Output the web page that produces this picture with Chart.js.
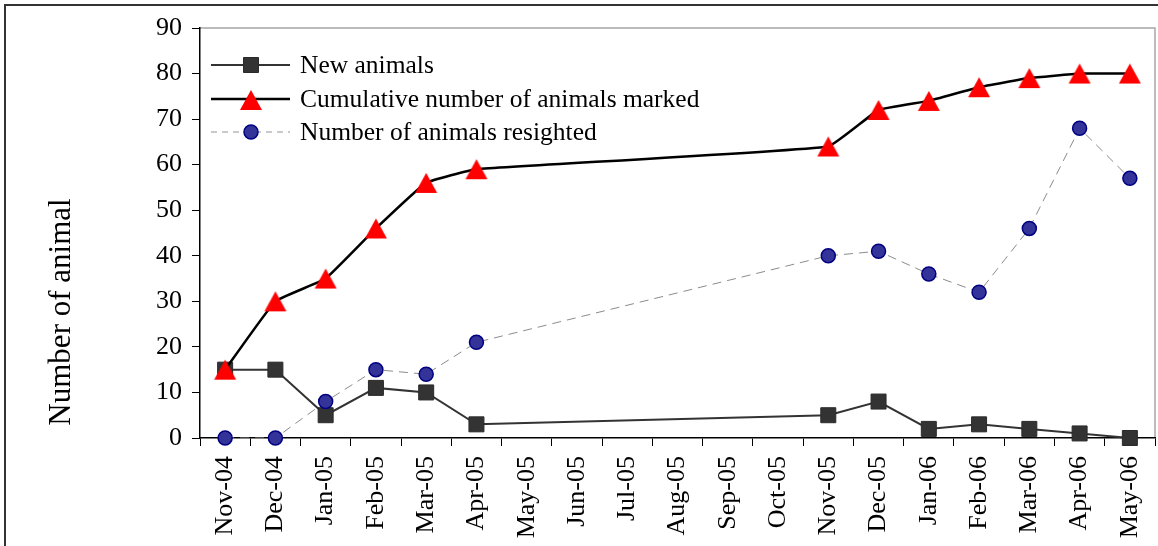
<!DOCTYPE html>
<html>
<head>
<meta charset="utf-8">
<script src="https://cdn.jsdelivr.net/npm/chart.js@4"></script>
<style>
  html, body { margin: 0; padding: 0; background: #fff; }
  #wrap { position: relative; width: 1158px; height: 546px; }
</style>
</head>
<body>
<div id="wrap"><canvas id="c" width="1158" height="546"></canvas></div>
<script>
// Monthly survey periods
const months = ['Nov-04','Dec-04','Jan-05','Feb-05','Mar-05','Apr-05','May-05','Jun-05','Jul-05',
                'Aug-05','Sep-05','Oct-05','Nov-05','Dec-05','Jan-06','Feb-06','Mar-06','Apr-06','May-06'];

// Series (null = no survey that month)
const newAnimals = [15, 15, 5, 11, 10, 3, null, null, null, null, null, null, 5, 8, 2, 3, 2, 1, 0];
const cumulativeMarked = [15, 30, 35, 46, 56, 59, null, null, null, null, null, null, 64, 72, 74, 77, 79, 80, 80];
const resighted = [0, 0, 8, 15, 14, 21, null, null, null, null, null, null, 40, 41, 36, 32, 46, 68, 57];

// Axis ticks
const yTicks = [0, 10, 20, 30, 40, 50, 60, 70, 80, 90];

const seriesNames = ['New animals', 'Cumulative number of animals marked', 'Number of animals resighted'];
const yTitle = 'Number of animal';

const SERIF = '"Liberation Serif", "DejaVu Serif", serif';

// Red triangle marker, centred on its bounding box
const triangleMarker = (() => {
  const cv = document.createElement('canvas');
  cv.width = 24; cv.height = 22;
  const c = cv.getContext('2d');
  c.beginPath();
  c.moveTo(12, 1);
  c.lineTo(23, 21);
  c.lineTo(1, 21);
  c.closePath();
  c.fillStyle = '#ff0000';
  c.fill();
  return cv;
})();

function drawMarker(ctx, style, x, y) {
  ctx.save();
  ctx.beginPath();
  if (style === 'rect') {
    const s = 7.5;
    ctx.rect(x - s, y - s, 2 * s, 2 * s);
    ctx.fillStyle = '#333333';
    ctx.strokeStyle = '#2a2a2a';
    ctx.lineWidth = 1;
    ctx.fill(); ctx.stroke();
  } else if (style === 'triangle') {
    ctx.drawImage(triangleMarker, x - 12, y - 11);
  } else {
    ctx.arc(x, y, 7, 0, Math.PI * 2);
    ctx.fillStyle = '#333399';
    ctx.strokeStyle = '#000080';
    ctx.lineWidth = 1.5;
    ctx.fill(); ctx.stroke();
  }
  ctx.restore();
}

const framePlugin = {
  id: 'frame',
  beforeDraw(chart) {
    const ctx = chart.ctx;
    ctx.save();
    ctx.fillStyle = '#ffffff';
    ctx.fillRect(0, 0, chart.width, chart.height);
    // outer chart frame
    ctx.strokeStyle = '#333333';
    ctx.lineWidth = 2;
    ctx.strokeRect(5, 5, chart.width + 20, chart.height + 20);
    // plot area top/right edge
    const a = chart.chartArea;
    ctx.strokeStyle = '#a6a6a6';
    ctx.lineWidth = 1.5;
    ctx.beginPath();
    ctx.moveTo(a.left, a.top);
    ctx.lineTo(a.right, a.top);
    ctx.lineTo(a.right, a.bottom);
    ctx.stroke();
    ctx.restore();
  },
  afterDraw(chart) {
    const ctx = chart.ctx;
    ctx.save();
    // y-axis title
    ctx.translate(62, 312);
    ctx.rotate(-Math.PI / 2);
    ctx.font = '31px ' + SERIF;
    ctx.fillStyle = '#000';
    ctx.textAlign = 'center';
    ctx.textBaseline = 'middle';
    ctx.fillText(yTitle, 0, 0);
    ctx.restore();

    // legend
    const rows = [
      { y: 65, style: 'rect', color: '#333333', width: 2, dash: [] },
      { y: 99, style: 'triangle', color: '#000000', width: 2.5, dash: [] },
      { y: 132, style: 'circle', color: '#b8b8b8', width: 1.5, dash: [6, 5] }
    ];
    rows.forEach((r, i) => {
      ctx.save();
      ctx.strokeStyle = r.color;
      ctx.lineWidth = r.width;
      ctx.setLineDash(r.dash);
      ctx.beginPath();
      ctx.moveTo(211, r.y);
      ctx.lineTo(290, r.y);
      ctx.stroke();
      ctx.restore();
      drawMarker(ctx, r.style, 251, r.style === 'triangle' ? r.y + 1 : r.y);
      ctx.save();
      ctx.font = '25.5px ' + SERIF;
      ctx.fillStyle = '#000';
      ctx.textAlign = 'left';
      ctx.textBaseline = 'middle';
      ctx.fillText(seriesNames[i], 300, r.y + 1);
      ctx.restore();
    });
  }
};

new Chart(document.getElementById('c'), {
  type: 'line',
  data: {
    labels: months,
    datasets: [
      {
        label: seriesNames[0],
        data: newAnimals,
        borderColor: '#333333',
        borderWidth: 2,
        pointStyle: 'rect',
        pointRadius: 10.6,
        pointBackgroundColor: '#333333',
        pointBorderColor: '#2a2a2a',
        pointBorderWidth: 1,
        spanGaps: true,
        tension: 0,
        clip: false,
        order: 3
      },
      {
        label: seriesNames[1],
        data: cumulativeMarked,
        borderColor: '#000000',
        borderWidth: 2.5,
        pointStyle: triangleMarker,
        pointRadius: 12,
        spanGaps: true,
        tension: 0.1,
        clip: false,
        order: 2
      },
      {
        label: seriesNames[2],
        data: resighted,
        borderColor: '#8c8c8c',
        borderWidth: 1,
        borderDash: [9, 6],
        pointStyle: 'circle',
        pointRadius: 7,
        pointBackgroundColor: '#333399',
        pointBorderColor: '#000080',
        pointBorderWidth: 1.5,
        spanGaps: true,
        tension: 0,
        clip: false,
        order: 1
      }
    ]
  },
  options: {
    responsive: false,
    animation: false,
    devicePixelRatio: 1,
    layout: { autoPadding: false, padding: { top: 28, right: 3, left: 0, bottom: 0 } },
    plugins: {
      legend: { display: false },
      tooltip: { enabled: false }
    },
    scales: {
      x: {
        type: 'category',
        offset: true,
        afterFit(scale) {
          scale.height = 108;
          scale.paddingLeft = 0;
          scale.paddingRight = 0;
        },
        grid: {
          offset: true,
          drawOnChartArea: false,
          drawTicks: true,
          tickLength: 8,
          color: '#000',
          lineWidth: 1
        },
        border: { display: true, color: '#000', width: 1.5 },
        ticks: {
          autoSkip: false,
          minRotation: 90,
          maxRotation: 90,
          padding: 10,
          color: '#000',
          font: { family: SERIF, size: 26 }
        }
      },
      y: {
        min: yTicks[0],
        max: yTicks[yTicks.length - 1],
        afterFit(scale) {
          scale.width = 200;
          scale.paddingTop = 0;
          scale.paddingBottom = 0;
        },
        afterBuildTicks(scale) { scale.ticks = yTicks.map(v => ({ value: v })); },
        grid: {
          drawOnChartArea: false,
          drawTicks: true,
          tickLength: 8,
          color: '#000',
          lineWidth: 1
        },
        border: { display: true, color: '#000', width: 1.5 },
        ticks: {
          padding: 10,
          color: '#000',
          font: { family: SERIF, size: 26 }
        }
      }
    }
  },
  plugins: [framePlugin]
});
</script>
</body>
</html>
